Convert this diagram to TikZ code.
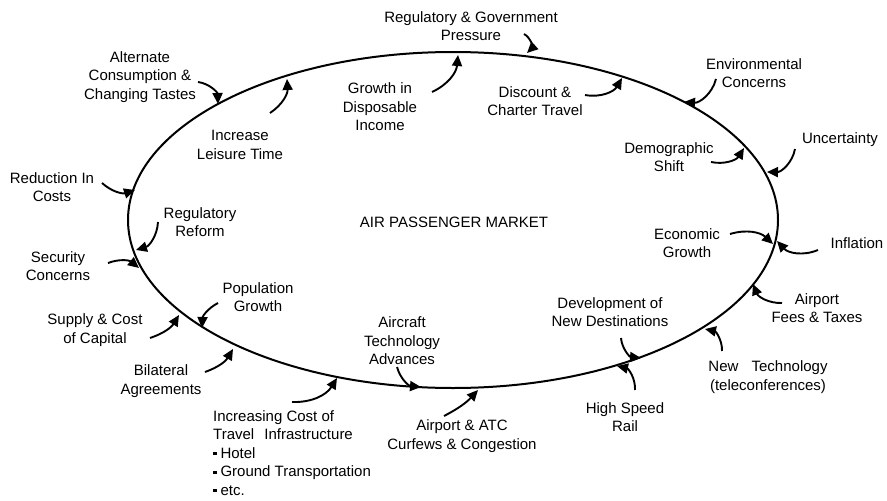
\documentclass[tikz,border=0pt]{standalone}
\usepackage{fontspec}
\setmainfont{Liberation Sans}
\usetikzlibrary{arrows.meta}
\newcommand{\bul}{\rule[0.22em]{0.24em}{0.2em}\hspace{0.25em}}
\begin{document}
\begin{tikzpicture}[x=1pt,y=1pt,
  lbl/.style={font=\fontsize{15}{18.5}\selectfont, align=center, inner sep=0pt},
  infl/.style={line width=1.9pt, -{Triangle[length=11pt,width=10pt]}},
  rim/.style={line width=2pt}]
\useasboundingbox (0,0) rectangle (887,-501);

% the market loop
\draw[rim] (453,-220) ellipse [x radius=325, y radius=168];
\node[lbl] (apm) at (454,-222) {AIR PASSENGER MARKET};

% labels
\node[lbl] (reg) at (471,-26) {Regulatory \& Government\\Pressure};
\node[lbl] (gdi) at (380,-107) {Growth in\\Disposable\\Income};
\node[lbl] (dct) at (535,-101) {Discount \&\\Charter Travel};
\node[lbl] (env) at (754,-73) {Environmental\\Concerns};
\node[lbl] (unc) at (840,-140) {Uncertainty};
\node[lbl] (dem) at (669,-157) {Demographic\\Shift};
\node[lbl] (eco) at (687,-243) {Economic\\Growth};
\node[lbl] (inf) at (857,-243) {Inflation};
\node[lbl] (fee) at (817,-308) {Airport\\Fees \& Taxes};
\node[lbl] (ntc) at (768,-377) {New\hspace{0.6em} Technology\\(teleconferences)};
\node[lbl] (dev) at (610,-312) {Development of\\New Destinations};
\node[lbl] (hsr) at (625,-417) {High Speed\\Rail};
\node[lbl] (atc) at (462,-436) {Airport \& ATC\\Curfews \& Congestion};
\node[lbl] (acr) at (402,-341) {Aircraft\\Technology\\Advances};
\node[lbl, align=left, anchor=west] (inc) at (213,-453)
  {Increasing Cost of\\Travel\hspace{0.4em} Infrastructure\\\bul Hotel\\\bul Ground Transportation\\\bul etc.};
\node[lbl] (bil) at (161,-381) {Bilateral\\Agreements};
\node[lbl] (sup) at (95,-330) {Supply \& Cost\\of Capital};
\node[lbl] (pop) at (258,-297) {Population\\Growth};
\node[lbl] (sec) at (58,-266) {Security\\Concerns};
\node[lbl] (rrf) at (200,-222) {Regulatory\\Reform};
\node[lbl] (red) at (52,-187) {Reduction In\\Costs};
\node[lbl] (lei) at (240,-145) {Increase\\Leisure Time};
\node[lbl] (alt) at (140,-77) {Alternate\\Consumption \&\\Changing Tastes};

% arrow ends
\coordinate (s1) at (524,-34);   \coordinate (e1) at (527,-53);
\coordinate (s2) at (432,-92);   \coordinate (e2) at (458,-55);
\coordinate (s3) at (585,-95);   \coordinate (e3) at (622,-78);
\coordinate (s4) at (716,-79);   \coordinate (e4) at (684,-102);
\coordinate (s5) at (795,-149);  \coordinate (e5) at (767,-172);
\coordinate (s6) at (711,-162);  \coordinate (e6) at (744,-148);
\coordinate (s7) at (730,-234);  \coordinate (e7) at (773,-244);
\coordinate (s8) at (818,-250);  \coordinate (e8) at (777,-241);
\coordinate (s9) at (782,-303);  \coordinate (e9) at (753,-284);
\coordinate (s10) at (722,-351); \coordinate (e10) at (705,-329);
\coordinate (s11) at (621,-338); \coordinate (e11) at (641,-358);
\coordinate (s12) at (635,-390); \coordinate (e12) at (617,-366);
\coordinate (s13) at (444,-416); \coordinate (e13) at (478,-390);
\coordinate (s14) at (397,-367); \coordinate (e14) at (421,-387);
\coordinate (s15) at (292,-402); \coordinate (e15) at (337,-378);
\coordinate (s16) at (205,-372); \coordinate (e16) at (233,-349);
\coordinate (s17) at (150,-338); \coordinate (e17) at (179,-315);
\coordinate (s18) at (218,-303); \coordinate (e18) at (202,-328);
\coordinate (s19) at (108,-263); \coordinate (e19) at (139,-268);
\coordinate (s20) at (158,-222); \coordinate (e20) at (136,-250);
\coordinate (s21) at (102,-183); \coordinate (e21) at (135,-190);
\coordinate (s22) at (270,-113); \coordinate (e22) at (287,-79);
\coordinate (s23) at (198,-82);  \coordinate (e23) at (218,-104);

% influence arrows
\draw[infl] (s1) to[bend left=55] (e1);
\draw[infl] (s2) to[bend right=30] (e2);
\draw[infl] (s3) to[bend right=35] (e3);
\draw[infl] (s4) to[bend left=40] (e4);
\draw[infl] (s5) to[bend left=40] (e5);
\draw[infl] (s6) to[bend right=35] (e6);
\draw[infl] (s7) to[bend left=30] (e7);
\draw[infl] (s8) to[bend left=35] (e8);
\draw[infl] (s9) to[bend left=35] (e9);
\draw[infl] (s10) to[bend right=40] (e10);
\draw[infl] (s11) to[bend right=40] (e11);
\draw[infl] (s12) to[bend right=40] (e12);
\draw[infl] (s13) to[bend right=10] (e13);
\draw[infl] (s14) to[bend right=35] (e14);
\draw[infl] (s15) to[bend right=30] (e15);
\draw[infl] (s16) to[bend right=20] (e16);
\draw[infl] (s17) to[bend right=20] (e17);
\draw[infl] (s18) to[bend right=30] (e18);
\draw[infl] (s19) to[bend left=30] (e19);
\draw[infl] (s20) to[bend left=35] (e20);
\draw[infl] (s21) to[bend right=30] (e21);
\draw[infl] (s22) to[bend right=30] (e22);
\draw[infl] (s23) to[bend left=40] (e23);
\end{tikzpicture}
\end{document}
